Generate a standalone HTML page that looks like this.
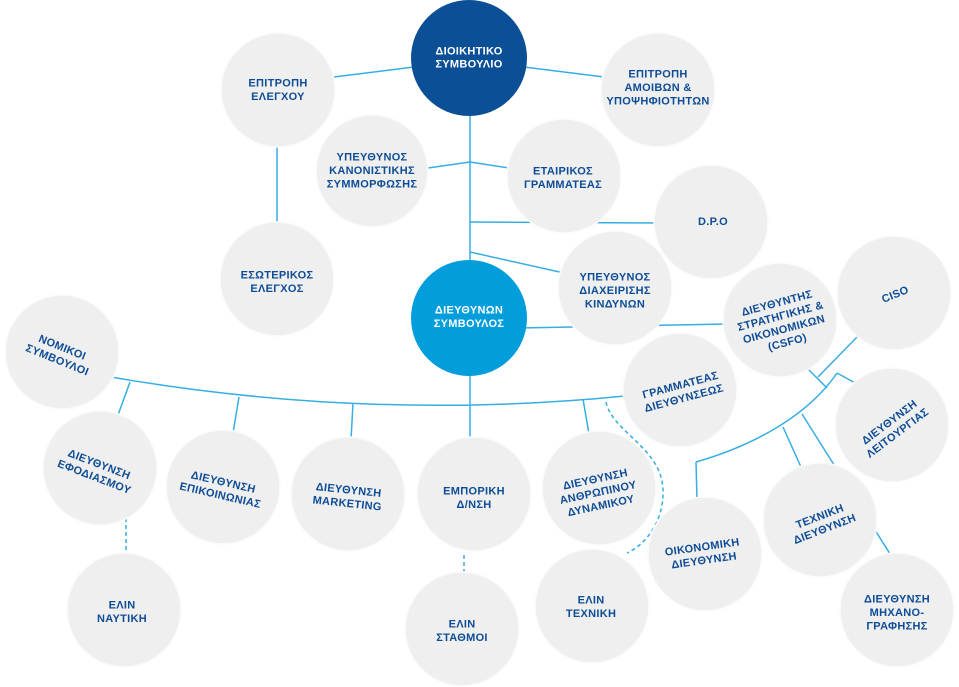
<!DOCTYPE html>
<html>
<head>
<meta charset="utf-8">
<style>
html,body{margin:0;padding:0;background:#fff;width:959px;height:687px;overflow:hidden;}
svg{display:block;}
text{font-family:"Liberation Sans","DejaVu Sans",sans-serif;font-weight:bold;font-size:11px;letter-spacing:0.3px;fill:#0d4c96;text-anchor:middle;}
.w{fill:#fff;}
.ln{stroke:#36aee4;stroke-width:1.5;fill:none;}
.ds{stroke:#36aee4;stroke-width:1.5;fill:none;stroke-dasharray:4 3;}
.c{fill:#efefef;stroke:#fbfbfb;stroke-width:1.5;}
</style>
</head>
<body>
<svg width="959" height="687" viewBox="0 0 959 687" xmlns="http://www.w3.org/2000/svg">
<!-- connectors -->
<line class="ln" x1="334" y1="77" x2="414" y2="67"/>
<line class="ln" x1="524" y1="67" x2="604" y2="77"/>
<line class="ln" x1="470" y1="110" x2="470" y2="264"/>
<polyline class="ln" points="428,168 470,162 509,168"/>
<line class="ln" x1="470" y1="222" x2="658" y2="223"/>
<line class="ln" x1="470" y1="252" x2="564" y2="273"/>
<line class="ln" x1="277" y1="145" x2="277" y2="226"/>
<line class="ln" x1="520" y1="328" x2="726" y2="324"/>
<path class="ln" d="M111,377 Q368,421.5 625,396"/>
<line class="ln" x1="130" y1="382" x2="118" y2="415"/>
<line class="ln" x1="239" y1="397" x2="233" y2="433"/>
<line class="ln" x1="353" y1="403" x2="351" y2="440"/>
<line class="ln" x1="470" y1="374" x2="470" y2="440"/>
<line class="ln" x1="583" y1="399" x2="589" y2="434"/>
<line class="ds" x1="126" y1="518" x2="126" y2="553"/>
<line class="ds" x1="464" y1="555" x2="464" y2="573"/>
<path class="ds" d="M606,402 C612,432 662,448 663,490 C664,522 645,545 627,553"/>
<line class="ln" x1="859" y1="335" x2="818" y2="377"/>
<line class="ln" x1="807" y1="368" x2="827" y2="388"/>
<path class="ln" d="M696,462 C745,448 805,420 837,373"/>
<line class="ln" x1="837" y1="373" x2="857" y2="384"/>
<line class="ln" x1="696" y1="462" x2="697" y2="500"/>
<line class="ln" x1="783" y1="427" x2="801" y2="467"/>
<line class="ln" x1="802" y1="414" x2="892" y2="557"/>

<!-- circles -->
<circle cx="469" cy="58" r="58" fill="#0b4f97"/>
<circle class="c" cx="278" cy="90" r="57"/>
<circle class="c" cx="658" cy="90" r="57"/>
<circle class="c" cx="372" cy="171" r="56"/>
<circle class="c" cx="564" cy="176" r="57"/>
<circle class="c" cx="711" cy="222" r="57"/>
<circle class="c" cx="277" cy="279" r="57"/>
<circle cx="469" cy="318" r="58" fill="#029ddb"/>
<circle class="c" cx="615" cy="288" r="57"/>
<circle class="c" cx="780" cy="320" r="57"/>
<circle class="c" cx="894" cy="293" r="57"/>
<circle class="c" cx="62" cy="352" r="57"/>
<circle class="c" cx="680" cy="390" r="57"/>
<circle class="c" cx="892" cy="425" r="57"/>
<circle class="c" cx="100" cy="468" r="57"/>
<circle class="c" cx="223" cy="487" r="57"/>
<circle class="c" cx="348" cy="494" r="57"/>
<circle class="c" cx="474" cy="494" r="57"/>
<circle class="c" cx="599" cy="488" r="57"/>
<circle class="c" cx="124" cy="610" r="57"/>
<circle class="c" cx="462" cy="629" r="57"/>
<circle class="c" cx="592" cy="606" r="57"/>
<circle class="c" cx="705" cy="554" r="57"/>
<circle class="c" cx="820" cy="520" r="57"/>
<circle class="c" cx="897" cy="610" r="57"/>

<!-- labels -->
<g transform="translate(469,57)"><text class="w" y="-2.5">ΔΙΟΙΚΗΤΙΚΟ</text><text class="w" y="10.5">ΣΥΜΒΟΥΛΙΟ</text></g>
<g transform="translate(278,89)"><text y="-2.5">ΕΠΙΤΡΟΠΗ</text><text y="11">ΕΛΕΓΧΟΥ</text></g>
<g transform="translate(658,87)"><text y="-9.5">ΕΠΙΤΡΟΠΗ</text><text y="4">ΑΜΟΙΒΩΝ &amp;</text><text y="17.5">ΥΠΟΨΗΦΙΟΤΗΤΩΝ</text></g>
<g transform="translate(372,170)"><text y="-9.5">ΥΠΕΥΘΥΝΟΣ</text><text y="4">ΚΑΝΟΝΙΣΤΙΚΗΣ</text><text y="17.5">ΣΥΜΜΟΡΦΩΣΗΣ</text></g>
<g transform="translate(563,177)"><text y="-2.5">ΕΤΑΙΡΙΚΟΣ</text><text y="11">ΓΡΑΜΜΑΤΕΑΣ</text></g>
<g transform="translate(713,221)"><text y="4">D.P.O</text></g>
<g transform="translate(277,281)"><text y="-2.5">ΕΣΩΤΕΡΙΚΟΣ</text><text y="11">ΕΛΕΓΧΟΣ</text></g>
<g transform="translate(469,316)"><text class="w" y="-2.5">ΔΙΕΥΘΥΝΩΝ</text><text class="w" y="11">ΣΥΜΒΟΥΛΟΣ</text></g>
<g transform="translate(615,290)"><text y="-9.5">ΥΠΕΥΘΥΝΟΣ</text><text y="4">ΔΙΑΧΕΙΡΙΣΗΣ</text><text y="17.5">ΚΙΝΔΥΝΩΝ</text></g>
<g transform="translate(782,322) rotate(-15)"><text y="-16">ΔΙΕΥΘΥΝΤΗΣ</text><text y="-2.5">ΣΤΡΑΤΗΓΙΚΗΣ &amp;</text><text y="11">ΟΙΚΟΝΟΜΙΚΩΝ</text><text y="24.5">(CSFO)</text></g>
<g transform="translate(895,294) rotate(-22)"><text y="4">CISO</text></g>
<g transform="translate(60,353) rotate(22)"><text y="-2.5">ΝΟΜΙΚΟΙ</text><text y="11">ΣΥΜΒΟΥΛΟΙ</text></g>
<g transform="translate(682,391) rotate(-15)"><text y="-2.5">ΓΡΑΜΜΑΤΕΑΣ</text><text y="11">ΔΙΕΥΘΥΝΣΕΩΣ</text></g>
<g transform="translate(893,427) rotate(-37)"><text y="-2.5">ΔΙΕΥΘΥΝΣΗ</text><text y="11">ΛΕΙΤΟΥΡΓΙΑΣ</text></g>
<g transform="translate(97,470) rotate(21)"><text y="-2.5">ΔΙΕΥΘΥΝΣΗ</text><text y="11">ΕΦΟΔΙΑΣΜΟΥ</text></g>
<g transform="translate(222,488) rotate(13)"><text y="-2.5">ΔΙΕΥΘΥΝΣΗ</text><text y="11">ΕΠΙΚΟΙΝΩΝΙΑΣ</text></g>
<g transform="translate(348,496) rotate(6)"><text y="-2.5">ΔΙΕΥΘΥΝΣΗ</text><text y="11">MARKETING</text></g>
<g transform="translate(474,497)"><text y="-2.5">ΕΜΠΟΡΙΚΗ</text><text y="11">Δ/ΝΣΗ</text></g>
<g transform="translate(598,492) rotate(-12)"><text y="-9.5">ΔΙΕΥΘΥΝΣΗ</text><text y="4">ΑΝΘΡΩΠΙΝΟΥ</text><text y="17.5">ΔΥΝΑΜΙΚΟΥ</text></g>
<g transform="translate(122,611)"><text y="-2.5">ΕΛΙΝ</text><text y="11">ΝΑΥΤΙΚΗ</text></g>
<g transform="translate(462,630)"><text y="-2.5">ΕΛΙΝ</text><text y="11">ΣΤΑΘΜΟΙ</text></g>
<g transform="translate(591,606)"><text y="-2.5">ΕΛΙΝ</text><text y="11">ΤΕΧΝΙΚΗ</text></g>
<g transform="translate(703,553) rotate(-8)"><text y="-2.5">ΟΙΚΟΝΟΜΙΚΗ</text><text y="11">ΔΙΕΥΘΥΝΣΗ</text></g>
<g transform="translate(822,522) rotate(-21)"><text y="-2.5">ΤΕΧΝΙΚΗ</text><text y="11">ΔΙΕΥΘΥΝΣΗ</text></g>
<g transform="translate(897,612)"><text y="-9.5">ΔΙΕΥΘΥΝΣΗ</text><text y="4">ΜΗΧΑΝΟ-</text><text y="17.5">ΓΡΑΦΗΣΗΣ</text></g>
</svg>
</body>
</html>
